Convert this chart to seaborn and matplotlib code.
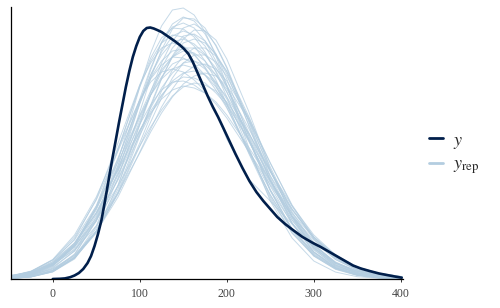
import matplotlib
matplotlib.use("Agg")
import matplotlib.pyplot as plt
from matplotlib.lines import Line2D
import seaborn as sns
import pandas as pd

y_x = [0, 8, 14, 20, 25, 30, 35, 40, 44, 48, 52, 56, 60, 64, 68, 72, 76, 80, 84, 88,
       92, 96, 100, 104, 108, 112, 116, 120, 125, 130, 135, 140, 146, 151, 156, 161, 166, 172, 178, 184,
       190, 196, 203, 210, 218, 226, 234, 242, 250, 258, 267, 276, 287, 299, 308, 316, 323, 330, 338, 345,
       354, 364, 375, 387, 395, 401]
y_dens = [0, 0.2, 0.6, 1.8, 3.5, 6, 10, 16, 23, 33, 45, 59, 78, 98, 118, 137, 156, 174, 192, 208,
          222, 233, 242, 248, 251, 251.5, 250.5, 249, 247, 244, 241, 238, 234, 230, 225, 217, 207, 195, 183, 172,
          162, 151, 138, 125, 111, 98, 87, 78, 70, 62, 55, 49, 42, 36, 32, 28, 24.5, 21, 17, 13.5,
          10.5, 8, 5.5, 3.5, 2.2, 1.3]

# ---- replicated densities (yrep), evaluated on a common grid ----
rep_x = [-48, -25, 0, 25, 50, 75, 100, 112.5, 125, 137.5, 150, 162.5, 175, 187.5, 200,
         225, 250, 275, 300, 325, 350, 375, 402]
yrep_1 = [0.5, 2.2, 8.2, 24, 59, 118, 192, 226, 253, 269, 271, 264, 247, 223, 194, 132, 78, 41, 18, 6.9, 2.3, 0.7, 0.1]
yrep_2 = [0.5, 2.1, 7.3, 21, 51, 101, 167, 201, 229, 250, 261, 260, 251, 233, 211, 154, 98, 56, 27, 11.5, 4.2, 1.4, 0.4]
yrep_3 = [0.6, 2.2, 7.1, 20, 48, 93, 155, 187, 216, 238, 251, 255, 248, 234, 212, 158, 101, 56, 27, 11, 4.1, 1.2, 0.3]
yrep_4 = [1.2, 4.1, 12.6, 33, 71, 129, 194, 221, 241, 251, 250, 242, 227, 207, 182, 130, 82, 46, 23, 10, 3.9, 1.3, 0.4]
yrep_5 = [1.0, 3.5, 11, 28, 62, 114, 175, 204, 227, 243, 248, 244, 233, 215, 192, 140, 89, 50, 25, 11, 4.1, 1.4, 0.4]
yrep_6 = [0.8, 2.6, 8, 21, 46, 87, 143, 172, 200, 223, 240, 249, 248, 239, 220, 168, 110, 62, 30, 12.5, 4.4, 1.4, 0.3]
yrep_7 = [1.6, 4.9, 13.8, 34, 69, 120, 178, 204, 224, 237, 240, 235, 225, 208, 187, 140, 93, 55, 29, 13.7, 5.8, 2.2, 0.7]
yrep_8 = [1.9, 5.9, 17, 40, 80, 136, 194, 216, 231, 236, 233, 225, 211, 193, 172, 127, 84, 50, 27, 13, 5.8, 2.3, 0.8]
yrep_9 = [1.4, 4.2, 11.8, 28, 58, 104, 158, 184, 207, 222, 231, 231, 224, 211, 193, 147, 99, 59, 31, 15, 6.2, 2.3, 0.7]
yrep_10 = [1.7, 5, 13.6, 32, 64, 111, 164, 188, 209, 222, 228, 226, 218, 204, 187, 144, 99, 62, 34, 17, 7.7, 3.1, 1.0]
yrep_11 = [1.3, 3.7, 9.9, 23, 48, 85, 133, 157, 181, 201, 216, 224, 224, 217, 203, 159, 108, 63, 32, 14, 5.4, 1.8, 0.5]
yrep_12 = [2.7, 7.4, 19, 42, 79, 128, 179, 200, 214, 222, 221, 215, 204, 189, 171, 129, 89, 56, 31, 16, 7.5, 3.2, 1.1]
yrep_13 = [2, 5.4, 13.8, 30, 59, 100, 148, 171, 191, 206, 216, 218, 214, 204, 190, 151, 108, 70, 40, 21, 9.6, 4, 1.4]
yrep_14 = [3.1, 7.9, 19, 39, 73, 117, 163, 184, 200, 210, 214, 211, 204, 192, 176, 138, 98, 63, 37, 19.5, 9.4, 4.2, 1.5]
yrep_15 = [2.7, 7.5, 19.5, 44, 82, 131, 179, 197, 207, 210, 207, 199, 188, 168, 140, 100, 78, 55, 33, 16, 8, 3.5, 1.3]
yrep_16 = [2.8, 6.5, 14.6, 29, 53, 86, 126, 147, 166, 182, 195, 203, 206, 203, 193, 160, 116, 74, 42, 21, 9, 3.5, 1.1]
yrep_17 = [3, 7.4, 17.5, 36, 66, 105, 148, 168, 184, 196, 202, 201, 196, 186, 174, 140, 103, 69, 42, 24, 12, 5.5, 2.2]
yrep_18 = [2.1, 5.8, 15, 34, 66, 109, 155, 174, 189, 197, 198, 194, 186, 175, 161, 128, 94, 63, 39, 22, 11.6, 5.6, 2.3]
yrep_19 = [3.1, 7.2, 16, 33, 59, 93, 133, 152, 169, 183, 192, 196, 194, 188, 177, 146, 108, 73, 44, 24, 11.8, 5.2, 2]
yrep_20 = [4, 6, 16, 36, 71, 109, 149, 166, 180, 189, 193, 191, 186, 177, 164, 132, 98, 66, 41, 23, 12, 5.8, 2.3]
yrep_21 = [0.5, 2, 7.2, 22, 53, 107, 176, 209, 237, 255, 262, 258, 245, 225, 200, 143, 89, 48, 23, 9.7, 3.4, 1.1, 0.3]
yrep_22 = [0.8, 2.5, 8, 21, 47, 90, 146, 174, 201, 222, 236, 240, 236, 225, 207, 160, 109, 65, 34, 16, 6.5, 2.4, 0.7]
yrep_23 = [1.8, 5.4, 15, 35, 71, 121, 176, 201, 218, 228, 230, 224, 212, 195, 175, 128, 84, 49, 26, 12, 5, 1.8, 0.6]
yrep_24 = [0.7, 2.4, 7.7, 21, 48, 94, 154, 184, 211, 231, 243, 245, 238, 224, 205, 155, 103, 61, 31, 14, 5.7, 2, 0.6]
yrep_25 = [1.3, 4.3, 13.3, 34, 73, 130, 192, 218, 236, 244, 242, 233, 218, 199, 175, 126, 80, 46, 24, 10.7, 4.3, 1.6, 0.5]
yrep_26 = [1.1, 3.2, 9, 22, 47, 86, 136, 163, 188, 209, 223, 231, 231, 223, 208, 163, 112, 67, 35, 16, 6.5, 2.3, 0.6]
yrep_27 = [2.2, 6, 15.6, 35, 66, 111, 161, 184, 202, 215, 220, 218, 210, 197, 180, 139, 96, 59, 33, 16.5, 7.5, 3, 1]
yrep_28 = [2.5, 6.4, 15, 32, 61, 99, 144, 165, 183, 198, 206, 208, 204, 196, 182, 146, 107, 70, 42, 22, 10.6, 4.6, 1.7]
yrep_29 = [0.7, 2.5, 8.7, 25, 58, 113, 180, 211, 236, 252, 256, 251, 238, 218, 194, 140, 88, 50, 24, 10.5, 3.9, 1.3, 0.4]
yrep_30 = [1.5, 4.1, 10.3, 24, 47, 82, 127, 150, 172, 190, 205, 213, 215, 210, 198, 162, 116, 73, 40, 19.5, 8.5, 3.2, 1]

yrep_draws = [yrep_1, yrep_2, yrep_3, yrep_4, yrep_5, yrep_6, yrep_7, yrep_8, yrep_9, yrep_10,
              yrep_11, yrep_12, yrep_13, yrep_14, yrep_15, yrep_16, yrep_17, yrep_18, yrep_19, yrep_20,
              yrep_21, yrep_22, yrep_23, yrep_24, yrep_25, yrep_26, yrep_27, yrep_28, yrep_29, yrep_30]

x_ticks = [0, 100, 200, 300, 400]
legend_labels = [r"$y$", r"$y_{\mathrm{rep}}$"]

COL_Y = "#011f4b"
COL_REP = "#b3cde0"

rep_rows = []
for i, d in enumerate(yrep_draws):
    for xv, dv in zip(rep_x, d):
        rep_rows.append({"x": xv, "density": dv, "draw": i})
df_rep = pd.DataFrame(rep_rows)
df_y = pd.DataFrame({"x": y_x, "density": y_dens})

sns.set_theme(style="white")
plt.rcParams["font.family"] = ["Liberation Serif", "DejaVu Serif"]
plt.rcParams["mathtext.fontset"] = "stix"

fig = plt.figure(figsize=(5.0, 3.08), dpi=100)
ax = fig.add_axes([11 / 500, 1 - 279 / 308, (403 - 11) / 500, (279 - 7) / 308])

sns.lineplot(data=df_rep, x="x", y="density", units="draw", estimator=None,
             color=COL_REP, alpha=0.75, linewidth=0.7, ax=ax, legend=False)
sns.lineplot(data=df_y, x="x", y="density", color=COL_Y, linewidth=1.9, ax=ax,
             legend=False)

ax.set_xlim(-48, 402.5)
ax.set_ylim(0, 272)
ax.set_xticks(x_ticks)
ax.set_xticklabels([str(t) for t in x_ticks])
ax.set_yticks([])
ax.set_xlabel("")
ax.set_ylabel("")
for s in ["top", "right"]:
    ax.spines[s].set_visible(False)
for s in ["left", "bottom"]:
    ax.spines[s].set_color("black")
    ax.spines[s].set_linewidth(0.9)
ax.tick_params(axis="x", length=2.5, width=0.7, color="#333333", labelsize=8.5,
               labelcolor="#444444", pad=4, bottom=True)

handles = [Line2D([0], [0], color=COL_Y, lw=2.0),
           Line2D([0], [0], color=COL_REP, lw=2.0)]
fig.legend(handles, legend_labels, loc="center left", bbox_to_anchor=(429 / 500, 1 - 154 / 308),
           frameon=False, fontsize=13, handlelength=0.75, handletextpad=0.6,
           labelspacing=0.3, borderpad=0, borderaxespad=0)

fig.savefig("out.png", dpi=100)
